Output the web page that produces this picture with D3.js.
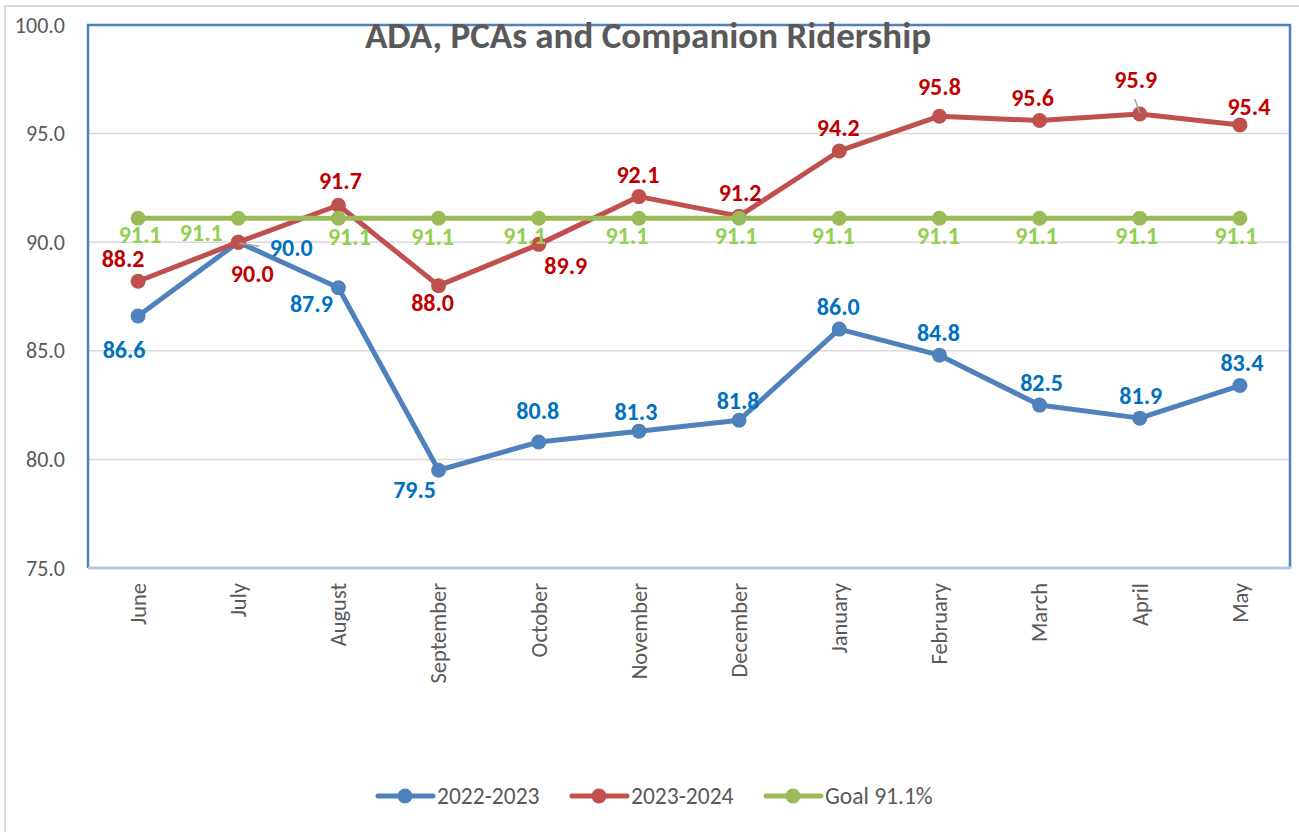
<!DOCTYPE html>
<html>
<head>
<meta charset="utf-8">
<script src="https://cdn.jsdelivr.net/npm/d3@7"></script>
<style>
  body { margin: 0; background: #fff; }
  svg { display: block; font-family: Carlito, "Open Sans", sans-serif; }
</style>
</head>
<body>
<svg id="chart" width="1299" height="832"></svg>
<script>
// data
var months = ['June', 'July', 'August', 'September', 'October', 'November', 'December',
  'January', 'February', 'March', 'April', 'May'];
var ridership2223 = [86.6, 90.0, 87.9, 79.5, 80.8, 81.3, 81.8, 86.0, 84.8, 82.5, 81.9, 83.4];
var ridership2324 = [88.2, 90.0, 91.7, 88.0, 89.9, 92.1, 91.2, 94.2, 95.8, 95.6, 95.9, 95.4];
var goal = [91.1, 91.1, 91.1, 91.1, 91.1, 91.1, 91.1, 91.1, 91.1, 91.1, 91.1, 91.1];
var yTicks = [75, 80, 85, 90, 95, 100];

// where each data label sits relative to its point (label centre offset)
var labelShift2223 = [[-14, 34], [53, 6], [-27, 16], [-24, 20], [-1, -31], [-3, -19], [-1, -19],
  [-1, -22], [-1, -22], [2, -22], [1, -22], [2, -23]];
var labelShift2324 = [[-15, -22], [14, 32], [2, -24], [-6, 17], [27, 21], [-1, -22], [1, -23],
  [-1, -23], [0, -29], [-7, -23], [-4, -34], [9, -18]];
var labelShiftGoal = [[2, 17], [-37, 15], [11, 19], [-6, 19], [-14, 18], [-12, 18], [-3, 18],
  [-6, 18], [-1, 18], [-3, 18], [-3, 18], [-4, 18]];

var series = [
  { name: '2022-2023', values: ridership2223, shift: labelShift2223, line: '#4F81BD', label: '#0070C0' },
  { name: '2023-2024', values: ridership2324, shift: labelShift2324, line: '#C0504D', label: '#C00000' },
  { name: 'Goal 91.1%', values: goal, shift: labelShiftGoal, line: '#9BBB59', label: '#92D050' }
];

var svg = d3.select('#chart');
var plotLeft = 88, plotRight = 1290, plotTop = 25, plotBottom = 568;

// outer chart-area border
svg.append('rect')
  .attr('x', 5).attr('y', 6).attr('width', 1400).attr('height', 900)
  .attr('fill', 'none').attr('stroke', '#D9D9D9').attr('stroke-width', 2);

var x = d3.scaleBand().domain(months).range([plotLeft, plotRight]);
var y = d3.scaleLinear().domain([75, 100]).range([plotBottom, plotTop]);
var cx = function(i) { return x(months[i]) + x.bandwidth() / 2; };

// gridlines
svg.append('g').selectAll('line')
  .data(yTicks.slice(1, -1))
  .enter().append('line')
  .attr('x1', plotLeft).attr('x2', plotRight)
  .attr('y1', d => y(d)).attr('y2', d => y(d))
  .attr('stroke', '#D9D9D9').attr('stroke-width', 1.5);

// plot border
svg.append('path')
  .attr('d', 'M' + plotLeft + ',' + plotBottom + 'V' + plotTop + 'H' + plotRight + 'V' + plotBottom)
  .attr('fill', 'none').attr('stroke', '#4F81BD').attr('stroke-width', 2.5);
svg.append('line')
  .attr('x1', plotLeft).attr('x2', plotRight + 1).attr('y1', plotBottom).attr('y2', plotBottom)
  .attr('stroke', '#B4C7E0').attr('stroke-width', 3);

// y axis labels
var yAxis = d3.axisLeft(y).tickValues(yTicks).tickFormat(d3.format('.1f')).tickSize(0).tickPadding(0);
svg.append('g')
  .attr('transform', 'translate(65,0)')
  .call(yAxis)
  .call(g => g.select('.domain').remove())
  .selectAll('text')
  .attr('fill', '#595959')
  .style('font-size', '22px')
  .style('font-family', 'Carlito, "Open Sans", sans-serif');

// x axis labels, rotated
var xAxis = d3.axisBottom(x).tickSize(0).tickPadding(0);
svg.append('g')
  .attr('transform', 'translate(0,' + (plotBottom + 15) + ')')
  .call(xAxis)
  .call(g => g.select('.domain').remove())
  .selectAll('text')
  .attr('fill', '#595959')
  .style('font-size', '22.5px')
  .style('font-family', 'Carlito, "Open Sans", sans-serif')
  .attr('text-anchor', 'end')
  .attr('transform', 'rotate(-90)')
  .attr('x', 0).attr('y', 0).attr('dy', '0.35em');

// title
svg.append('text')
  .attr('x', 648).attr('y', 48)
  .attr('text-anchor', 'middle')
  .attr('fill', '#595959')
  .style('font-size', '37px')
  .style('font-weight', 'bold')
  .text('ADA, PCAs and Companion Ridership');

var line = d3.line().x((d, i) => cx(i)).y(d => y(d));

series.forEach(function(s) {
  var g = svg.append('g');
  g.append('path')
    .attr('d', line(s.values))
    .attr('fill', 'none').attr('stroke', s.line).attr('stroke-width', 5)
    .attr('stroke-linejoin', 'round');
  g.selectAll('circle')
    .data(s.values)
    .enter().append('circle')
    .attr('cx', (d, i) => cx(i)).attr('cy', d => y(d)).attr('r', 7.5)
    .attr('fill', s.line);
});

// leader lines for the two labels pulled away from their points
svg.append('line')
  .attr('x1', cx(1) + 1).attr('y1', y(ridership2223[1]) + 1)
  .attr('x2', cx(1) + 21).attr('y2', y(ridership2223[1]) + 4)
  .attr('stroke', '#A6A6A6').attr('stroke-width', 1.5);
svg.append('line')
  .attr('x1', cx(10)).attr('y1', y(ridership2324[10]) - 1)
  .attr('x2', cx(10) - 5).attr('y2', y(ridership2324[10]) - 15)
  .attr('stroke', '#A6A6A6').attr('stroke-width', 1.5);

// data labels
series.forEach(function(s) {
  svg.append('g').selectAll('text')
    .data(s.values)
    .enter().append('text')
    .attr('x', (d, i) => cx(i) + s.shift[i][0])
    .attr('y', (d, i) => y(d) + s.shift[i][1])
    .attr('dy', '0.34em')
    .attr('text-anchor', 'middle')
    .attr('fill', s.label)
    .style('font-size', '24px')
    .style('font-weight', 'bold')
    .text(d => d3.format('.1f')(d));
});

// legend
var legendX = [378, 572, 766];
var legend = svg.selectAll('.legend')
  .data(series)
  .enter().append('g')
  .attr('class', 'legend')
  .attr('transform', (d, i) => 'translate(' + legendX[i] + ',796)');
legend.append('line')
  .attr('x1', 0).attr('x2', 55).attr('y1', 0).attr('y2', 0)
  .attr('stroke', d => d.line).attr('stroke-width', 5).attr('stroke-linecap', 'round');
legend.append('circle')
  .attr('cx', 27).attr('cy', 0).attr('r', 7.5)
  .attr('fill', d => d.line);
legend.append('text')
  .attr('x', 59).attr('y', 0).attr('dy', '0.36em')
  .attr('fill', '#595959')
  .style('font-size', '23.5px')
  .text(d => d.name);
</script>
</body>
</html>
